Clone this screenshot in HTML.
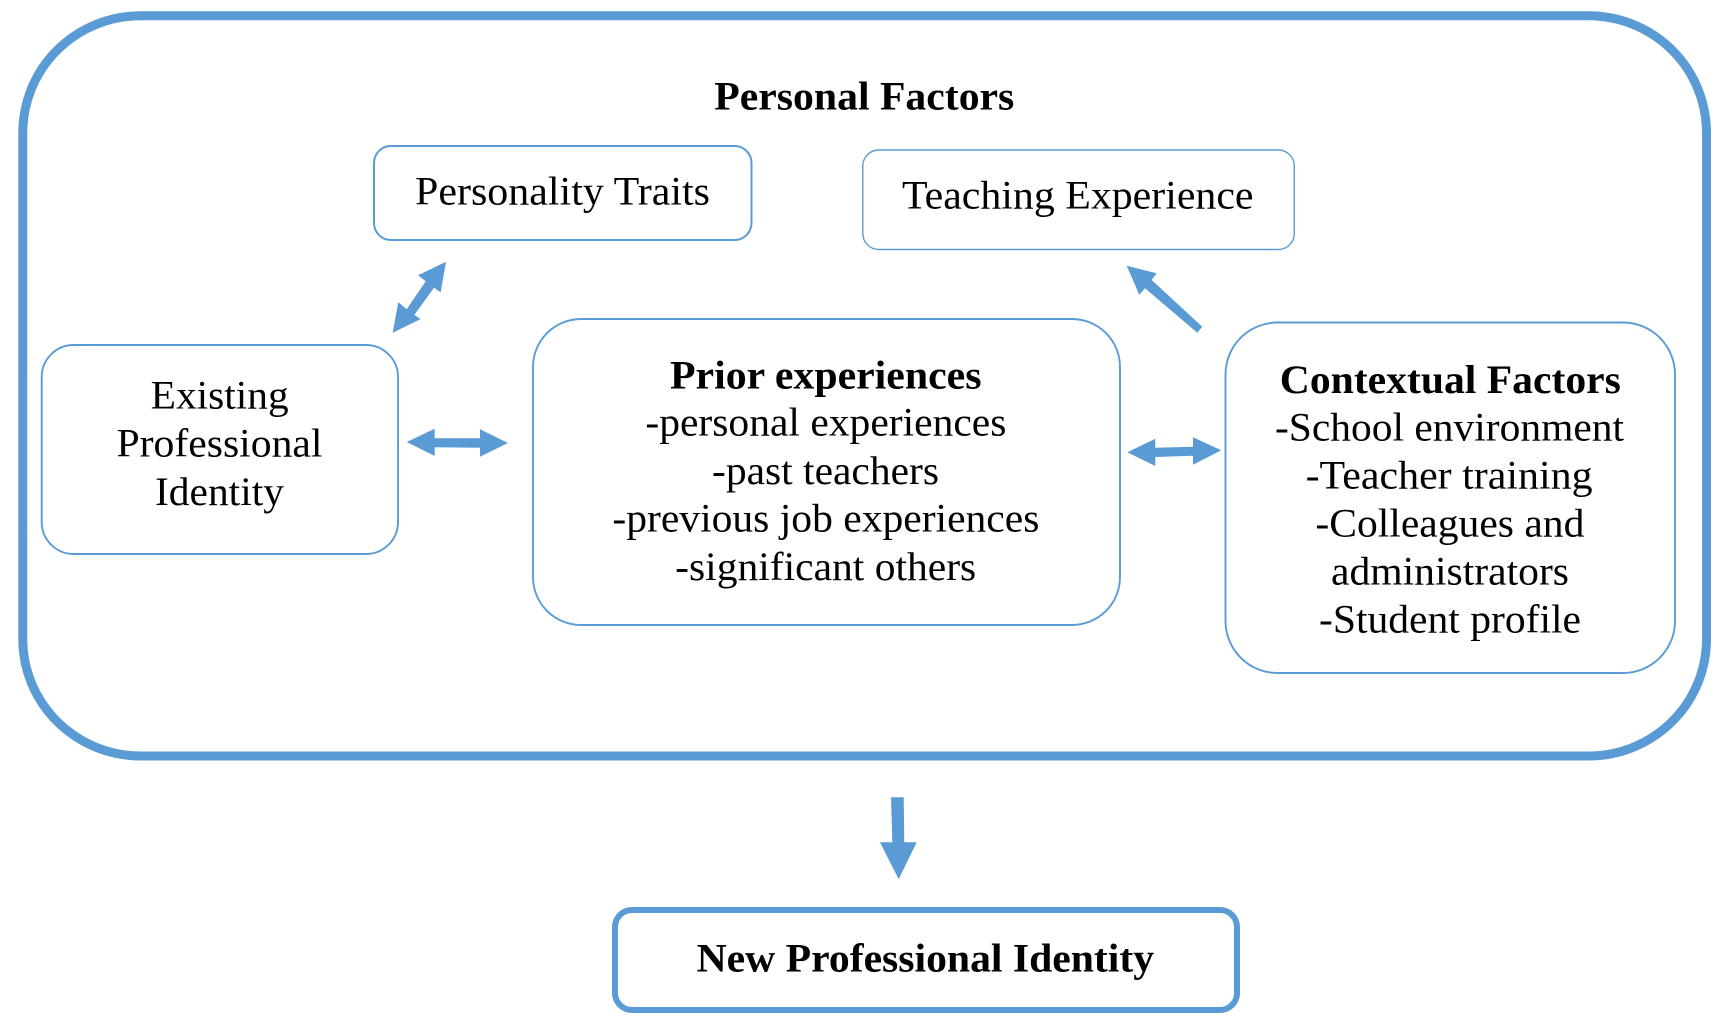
<!DOCTYPE html>
<html>
<head>
<meta charset="utf-8">
<style>
html,body{margin:0;padding:0;background:#fff;width:1730px;height:1019px;overflow:hidden}
svg{display:block}
text{font-family:"Liberation Serif",serif;font-size:40.5px;fill:#000}
.b{font-weight:bold}
rect{fill:#fff;stroke:#5B9BD5}
polygon{fill:#5B9BD5}
</style>
</head>
<body>
<svg width="1730" height="1019" viewBox="0 0 1730 1019" xmlns="http://www.w3.org/2000/svg">
<rect x="22.8" y="15.7" width="1683.7" height="740.3" rx="118" ry="117" stroke-width="9"/>
<rect x="374" y="146" width="377.5" height="94" rx="17" ry="17" stroke-width="2"/>
<rect x="862.8" y="150" width="431.5" height="99.5" rx="16" ry="16" stroke-width="1.4"/>
<rect x="41.7" y="345" width="356.3" height="209" rx="32" ry="32" stroke-width="1.9"/>
<rect x="533" y="319" width="587" height="306" rx="48" ry="48" stroke-width="1.9"/>
<rect x="1225.5" y="322.5" width="449.5" height="350.5" rx="52" ry="52" stroke-width="1.9"/>
<rect x="615" y="910" width="622" height="100" rx="17" ry="17" stroke-width="6"/>

<polygon points="446,261.7 440.7,292.3 434,287.7 414.3,315 420.7,319 392.7,332.7 398.3,302.3 406.7,309.3 425.7,281.3 418,275.3"/>
<polygon points="406.7,442 434.7,428.7 434.7,438.3 480,438.3 480,429.3 508,443 480,456.7 480,447.7 434.7,447.3 434.7,456"/>
<polygon points="1127.3,452.3 1155.3,438.7 1155.3,447.7 1193,446.7 1193,437.3 1221.3,450.3 1193,464.7 1193,455.7 1155.3,457 1155.3,466"/>
<polygon points="1126.7,265.7 1156.7,273.3 1151.7,280 1202.3,326.7 1197.3,332.7 1145,288.3 1139.3,294.7"/>
<polygon points="891,797.3 903.7,797.3 904.3,842.3 916.7,842.3 898.7,879.3 880,842.3 892.3,842.3"/>

<text class="b" x="714.3" y="109.7" textLength="300" lengthAdjust="spacingAndGlyphs">Personal Factors</text>
<text x="415" y="204.7" textLength="295" lengthAdjust="spacingAndGlyphs">Personality Traits</text>
<text x="902" y="208.7" textLength="351.5" lengthAdjust="spacingAndGlyphs">Teaching Experience</text>
<text x="150.7" y="408.7" textLength="138" lengthAdjust="spacingAndGlyphs">Existing</text>
<text x="116.5" y="456.4" textLength="206" lengthAdjust="spacingAndGlyphs">Professional</text>
<text x="155" y="505" textLength="129" lengthAdjust="spacingAndGlyphs">Identity</text>
<text class="b" x="670" y="388.4" textLength="311.5" lengthAdjust="spacingAndGlyphs">Prior experiences</text>
<text x="645.4" y="435.7" textLength="361" lengthAdjust="spacingAndGlyphs">-personal experiences</text>
<text x="712" y="484" textLength="227" lengthAdjust="spacingAndGlyphs">-past teachers</text>
<text x="612.4" y="531.7" textLength="427" lengthAdjust="spacingAndGlyphs">-previous job experiences</text>
<text x="675.2" y="580" textLength="301" lengthAdjust="spacingAndGlyphs">-significant others</text>
<text class="b" x="1279.8" y="393" textLength="341" lengthAdjust="spacingAndGlyphs">Contextual Factors</text>
<text x="1275" y="440.7" textLength="349" lengthAdjust="spacingAndGlyphs">-School environment</text>
<text x="1305.6" y="488.4" textLength="287" lengthAdjust="spacingAndGlyphs">-Teacher training</text>
<text x="1315.4" y="536.4" textLength="269" lengthAdjust="spacingAndGlyphs">-Colleagues and</text>
<text x="1331" y="584.4" textLength="238" lengthAdjust="spacingAndGlyphs">administrators</text>
<text x="1319" y="632.4" textLength="262" lengthAdjust="spacingAndGlyphs">-Student profile</text>
<text class="b" x="696.6" y="971.5" textLength="457.5" lengthAdjust="spacingAndGlyphs">New Professional Identity</text>
</svg>
</body>
</html>
